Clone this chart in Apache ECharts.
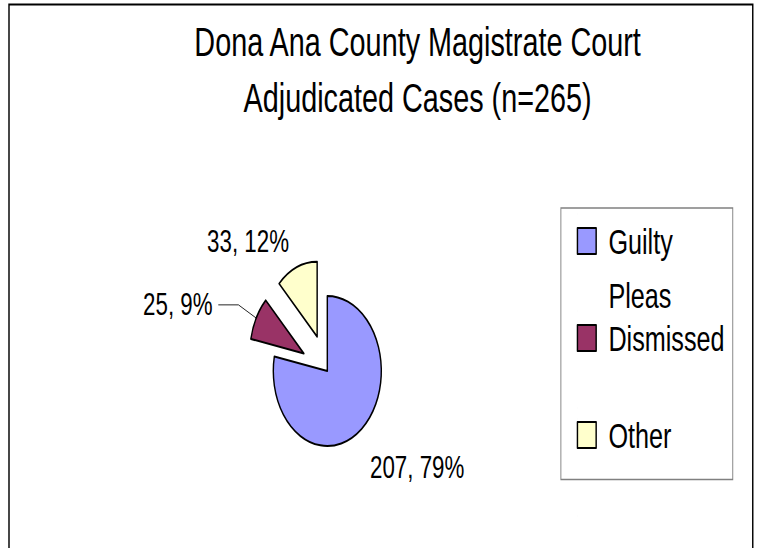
<!DOCTYPE html>
<html>
<head>
<meta charset="utf-8">
<script src="https://cdn.jsdelivr.net/npm/echarts@6/dist/echarts.min.js"></script>
<style>
html, body { margin: 0; padding: 0; background: #fff; overflow: hidden; width: 757px; height: 548px; }
#main { width: 1052px; height: 548px; transform: scaleX(0.72); transform-origin: 0 0; }
</style>
</head>
<body>
<div id="main"></div>
<script>
// ---- data ----
const titleLines = ['Dona Ana County Magistrate Court', 'Adjudicated Cases (n=265)'];
const categories = ['Guilty Pleas', 'Dismissed', 'Other'];
const counts = [207, 25, 33];
const percents = [79, 9, 12];
const exploded = [false, true, true];

// ---- styles ----
const FONT = '"Liberation Sans", Arial, sans-serif';
const colors = ['#9999FF', '#993366', '#FFFFCC'];
const labelTweaks = [
  { line: { show: false, length: 50, length2: 0 }, dist: -20 },
  { line: { show: true, length: 28, length2: 28, lineStyle: { color: '#000', width: 1 } }, dist: 8 },
  { line: { show: false, length: 27.6, length2: 0 }, dist: 0 }
];

const chart = echarts.init(document.getElementById('main'), null, { renderer: 'svg' });

chart.setOption({
  animation: false,
  backgroundColor: '#ffffff',
  title: {
    text: titleLines.join('\n'),
    left: 580,
    top: 14,
    padding: 0,
    textAlign: 'center',
    textStyle: { fontFamily: FONT, fontSize: 40, fontWeight: 'normal', color: '#000', lineHeight: 56 }
  },
  legend: {
    orient: 'vertical',
    left: 779,
    top: 208,
    padding: [5, 11.3, -37.5, 22],
    itemWidth: 26,
    itemHeight: 108,
    itemGap: -13,
    icon: 'path://M0 0 L0.01 0 M0 14 L26 14 L26 40 L0 40 Z M0 108 L0.01 108',
    borderColor: '#808080',
    borderWidth: 1.3,
    selectedMode: false,
    itemStyle: { borderColor: '#000', borderWidth: 2 },
    formatter: function (n) { return n.indexOf(' ') >= 0 ? n.replace(' ', '\n') : n + '\n '; },
    textStyle: { fontFamily: FONT, fontSize: 35, color: '#000', lineHeight: 54, padding: [0, 0, 0, 12] },
    data: categories
  },
  graphic: [{
    type: 'rect',
    silent: true,
    shape: { x: 12.5, y: 4.5, width: 1033, height: 600 },
    style: { fill: 'none', stroke: '#000', lineWidth: 2 }
  }],
  series: [{
    type: 'pie',
    center: [454.6, 371],
    radius: 75,
    startAngle: 90,
    clockwise: true,
    selectedMode: 'multiple',
    selectedOffset: 37,
    avoidLabelOverlap: false,
    emphasis: { disabled: true },
    itemStyle: { borderColor: '#000', borderWidth: 2 },
    label: {
      show: true,
      position: 'outside',
      fontFamily: FONT,
      fontSize: 31,
      color: '#000',
      formatter: function (p) { return p.value + ', ' + percents[p.dataIndex] + '%'; }
    },
    data: categories.map(function (name, i) {
      return {
        name: name,
        value: counts[i],
        selected: exploded[i],
        itemStyle: { color: colors[i] },
        label: { distanceToLabelLine: labelTweaks[i].dist },
        labelLine: labelTweaks[i].line
      };
    })
  }]
});
</script>
</body>
</html>
